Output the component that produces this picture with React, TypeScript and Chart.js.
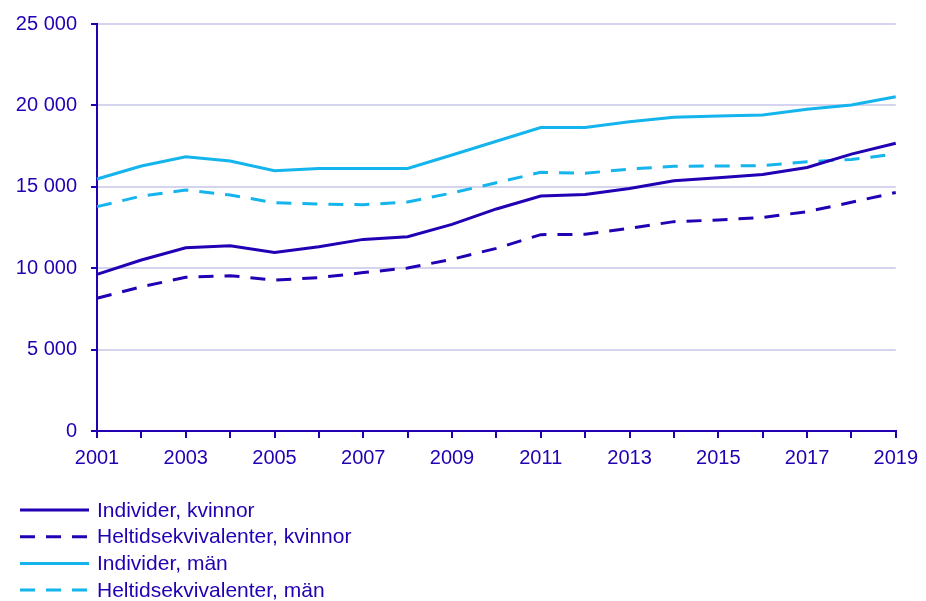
import React, { useEffect, useRef } from "react";
import { Chart, registerables } from "chart.js";

Chart.register(...registerables);

const years = ["2001","2002","2003","2004","2005","2006","2007","2008","2009","2010","2011","2012","2013","2014","2015","2016","2017","2018","2019"];
const individerKvinnor = [9620, 10500, 11260, 11380, 10970, 11320, 11770, 11930, 12690, 13640, 14430, 14530, 14900, 15370, 15560, 15760, 16190, 17010, 17670];
const heltidKvinnor = [8150, 8860, 9440, 9540, 9270, 9420, 9730, 10010, 10550, 11220, 12060, 12080, 12450, 12860, 12960, 13120, 13470, 14050, 14650];
const individerMan = [15480, 16280, 16850, 16580, 15990, 16130, 16130, 16130, 16950, 17800, 18640, 18650, 19000, 19270, 19350, 19410, 19760, 20020, 20530];
const heltidMan = [13780, 14430, 14800, 14500, 14020, 13940, 13900, 14070, 14620, 15250, 15890, 15830, 16090, 16260, 16280, 16300, 16540, 16680, 17010];
const seriesNames = ["Individer, kvinnor", "Heltidsekvivalenter, kvinnor", "Individer, män", "Heltidsekvivalenter, män"];
const yTicks = [0, 5000, 10000, 15000, 20000, 25000];

const DARK = "#2200B4";
const LIGHT = "#14B4EC";
const GRID = "#D4D4EE";
const FONT = "'Liberation Sans', Arial, sans-serif";

const legendPlugin = {
  id: "vertLegend",
  afterDraw(chart: any) {
    const ctx = chart.ctx;
    ctx.save();
    chart.data.datasets.forEach((ds: any, i: number) => {
      const y = 510 + i * 26.7;
      ctx.beginPath();
      ctx.strokeStyle = ds.borderColor;
      ctx.lineWidth = 3;
      ctx.lineCap = "butt";
      ctx.setLineDash(ds.borderDash || []);
      ctx.moveTo(20, y);
      ctx.lineTo(89, y);
      ctx.stroke();
      ctx.setLineDash([]);
      ctx.fillStyle = DARK;
      ctx.font = `21px ${FONT}`;
      ctx.textBaseline = "middle";
      ctx.textAlign = "left";
      ctx.fillText(ds.label, 97, y + 1);
    });
    ctx.restore();
  },
};

export default function App() {
  const ref = useRef<HTMLCanvasElement | null>(null);
  useEffect(() => {
    document.body.style.margin = "0";
    const chart = new Chart(ref.current as HTMLCanvasElement, {
      type: "line",
      data: {
        labels: years,
        datasets: [
          { label: seriesNames[0], data: individerKvinnor, borderColor: DARK, borderWidth: 3, pointRadius: 0, tension: 0 },
          { label: seriesNames[1], data: heltidKvinnor, borderColor: DARK, borderWidth: 3, borderDash: [15, 11], pointRadius: 0, tension: 0 },
          { label: seriesNames[2], data: individerMan, borderColor: LIGHT, borderWidth: 3, pointRadius: 0, tension: 0 },
          { label: seriesNames[3], data: heltidMan, borderColor: LIGHT, borderWidth: 3, borderDash: [15, 11], pointRadius: 0, tension: 0 },
        ],
      },
      options: {
        animation: false,
        responsive: false,
        maintainAspectRatio: false,
        layout: { padding: { top: 24, right: 30, bottom: 130, left: 0 } },
        plugins: { legend: { display: false }, tooltip: { enabled: false } },
        scales: {
          x: {
            offset: false,
            grid: { drawOnChartArea: false, drawTicks: true, tickLength: 7, tickColor: DARK, lineWidth: 2 },
            border: { color: DARK, width: 2 },
            ticks: {
              autoSkip: false,
              maxRotation: 0,
              color: DARK,
              font: { family: FONT, size: 20 },
              padding: 8,
              callback: (_v: any, i: number) => (i % 2 === 0 ? years[i] : ""),
            },
            afterFit: (s: any) => { s.height = 40; },
          },
          y: {
            min: 0,
            max: 25000,
            afterBuildTicks: (s: any) => { s.ticks = yTicks.map((v) => ({ value: v })); },
            grid: { color: GRID, lineWidth: 2, tickLength: 6, tickColor: DARK },
            border: { color: DARK, width: 2 },
            ticks: {
              color: DARK,
              font: { family: FONT, size: 20 },
              padding: 14,
              callback: (v: any) => String(v).replace(/\B(?=(\d{3})+(?!\d))/g, " "),
            },
            afterFit: (s: any) => { s.width = 97; s.paddingTop = 0; s.paddingBottom = 0; },
          },
        },
      },
      plugins: [legendPlugin],
    });
    return () => chart.destroy();
  }, []);
  return (
    <div style={{ position: "fixed", left: 0, top: 0, width: 926, height: 601, background: "#fff" }}>
      <canvas ref={ref} width={926} height={601} style={{ width: 926, height: 601 }} />
    </div>
  );
}
